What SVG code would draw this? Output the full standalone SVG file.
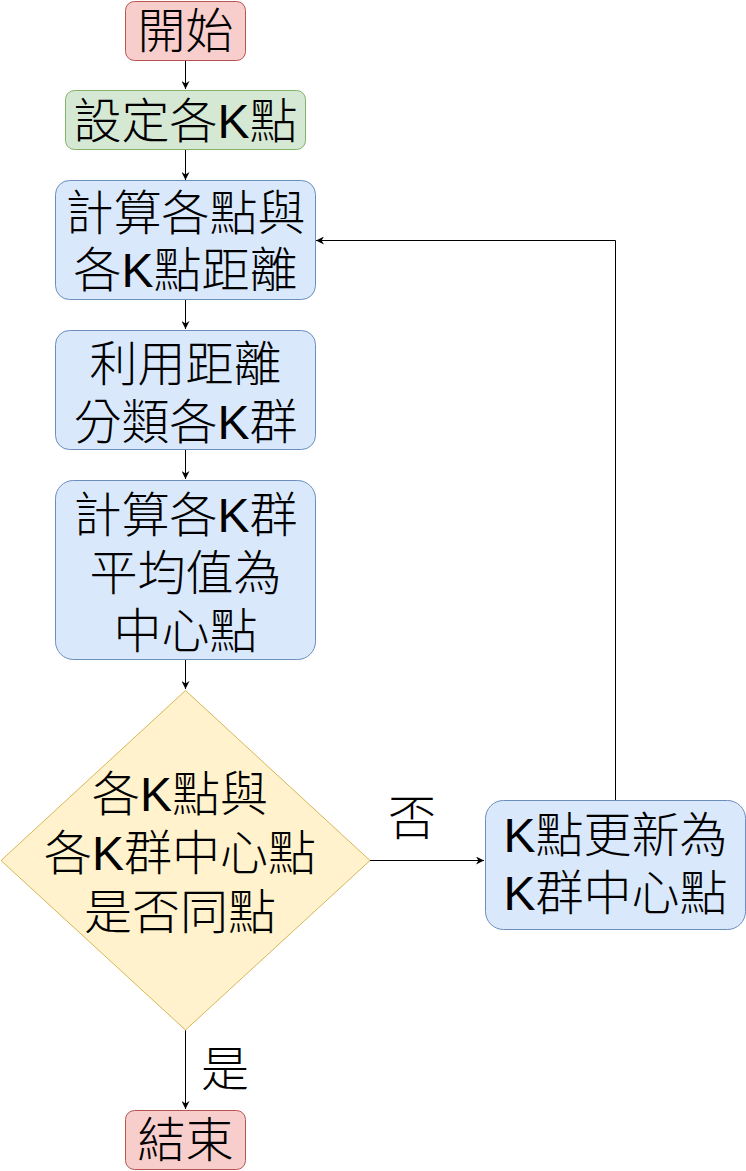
<svg xmlns="http://www.w3.org/2000/svg" width="746" height="1171" viewBox="0 0 746 1171">
<defs>
<style>
.t{font-family:"Liberation Sans","Noto Sans CJK TC",sans-serif;font-size:48px;font-weight:300;fill:#000;text-anchor:middle}
.red{fill:#f8cecc;stroke:#b85450;stroke-width:1}
.green{fill:#d5e8d4;stroke:#82b366;stroke-width:1}
.blue{fill:#dae8fc;stroke:#6c8ebf;stroke-width:1}
.yellow{fill:#fff2cc;stroke:#d6b656;stroke-width:1}
.c{fill:none;stroke:#000;stroke-width:1}
</style>
<marker id="ah" viewBox="0 0 10 10" refX="10" refY="5" markerWidth="8" markerHeight="8" markerUnits="userSpaceOnUse" orient="auto">
<path d="M0,0 L10,5 L0,10 L3,5 Z" fill="#000"/>
</marker>
</defs>
<rect width="746" height="1171" fill="#fff"/>
<g id="connectors">
<path class="c" d="M185.5,60 V89" marker-end="url(#ah)"/>
<path class="c" d="M185.5,150 V180" marker-end="url(#ah)"/>
<path class="c" d="M185.5,299 V329" marker-end="url(#ah)"/>
<path class="c" d="M185.5,450 V479" marker-end="url(#ah)"/>
<path class="c" d="M185.5,660 V689" marker-end="url(#ah)"/>
<path class="c" d="M370,860.5 H484" marker-end="url(#ah)"/>
<path class="c" d="M615.5,800 V240.5 H316" marker-end="url(#ah)"/>
<path class="c" d="M185.5,1030 V1109" marker-end="url(#ah)"/>
<text class="t" x="412" y="835">否</text>
<text class="t" x="225" y="1086">是</text>
</g>
<g id="start">
<rect class="red" x="125.5" y="1.5" width="120" height="59" rx="9"/>
<text class="t" x="185.5" y="48">開始</text>
</g>
<g id="setK">
<rect class="green" x="65.5" y="90.5" width="240" height="59" rx="9"/>
<text class="t" x="185.5" y="138">設定各K點</text>
</g>
<g id="calcDist">
<rect class="blue" x="55.5" y="180.5" width="260" height="119" rx="14"/>
<text class="t" x="185.5" y="230">計算各點與</text>
<text class="t" x="185.5" y="287">各K點距離</text>
</g>
<g id="classify">
<rect class="blue" x="55.5" y="330.5" width="260" height="119" rx="14"/>
<text class="t" x="185.5" y="381">利用距離</text>
<text class="t" x="185.5" y="439">分類各K群</text>
</g>
<g id="mean">
<rect class="blue" x="55.5" y="480.5" width="260" height="179" rx="18"/>
<text class="t" x="185.5" y="532">計算各K群</text>
<text class="t" x="185.5" y="590">平均值為</text>
<text class="t" x="185.5" y="648">中心點</text>
</g>
<g id="decision">
<path class="yellow" d="M185.5,690.5 L370,860.5 L185.5,1030 L1,860.5 Z"/>
<text class="t" x="180" y="811">各K點與</text>
<text class="t" x="180" y="870">各K群中心點</text>
<text class="t" x="180" y="929">是否同點</text>
</g>
<g id="update">
<rect class="blue" x="485.5" y="800.5" width="260" height="129" rx="18"/>
<text class="t" x="615.5" y="852">K點更新為</text>
<text class="t" x="615.5" y="910">K群中心點</text>
</g>
<g id="end">
<rect class="red" x="125.5" y="1110.5" width="120" height="59" rx="9"/>
<text class="t" x="185.5" y="1157">結束</text>
</g>
</svg>
